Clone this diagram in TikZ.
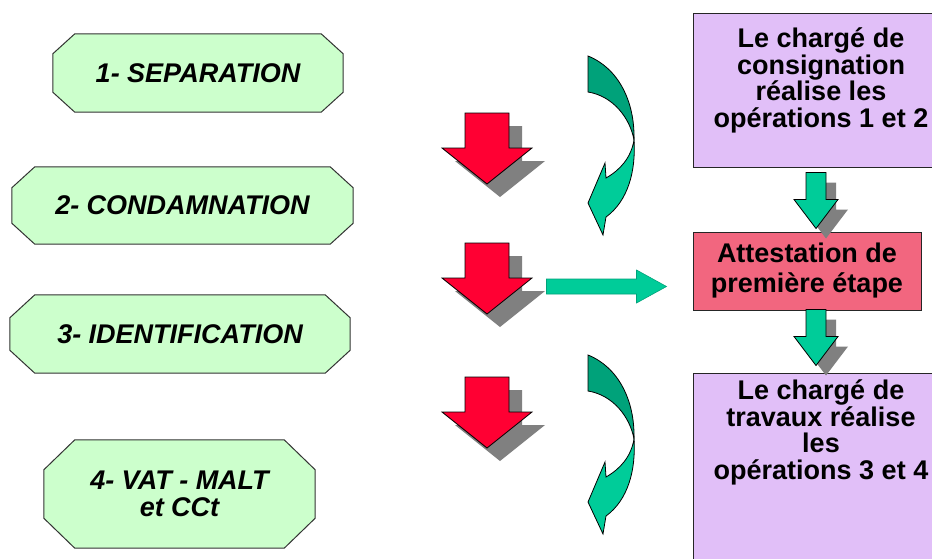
\documentclass[tikz,border=0pt]{standalone}
\usepackage{fontspec}
\setmainfont{Liberation Sans}
\usetikzlibrary{positioning,calc,backgrounds}
\definecolor{lotostepfill}{HTML}{CCFFCC}
\definecolor{lotoagentfill}{HTML}{E1BFF8}
\definecolor{lotoattestfill}{HTML}{F2667F}
\definecolor{lotored}{HTML}{FF0033}
\definecolor{lotogreen}{HTML}{00CC99}
\definecolor{lotogreendark}{HTML}{00A27A}
\colorlet{lotoshadow}{black!50}
\tikzset{
  lotostep/.style={
    align=center,
    inner sep=0pt,
    font=\fontsize{27}{27}\selectfont\bfseries\itshape
  },
  lotooctline/.style={draw=black!80,line width=1pt,fill=lotostepfill},
  lotoagent/.style={draw=black!85,line width=1pt,fill=lotoagentfill},
  lotoattest/.style={draw=black!85,line width=1pt,fill=lotoattestfill,
                     align=center,inner sep=0pt,
                     font=\fontsize{27}{30}\selectfont\bfseries},
  lototext/.style={align=center,inner sep=0pt,
                   font=\fontsize{27}{26.7}\selectfont\bfseries},
  lotoedge/.style={draw=black,line width=0.8pt},
  lotored/.pic={
    \fill[lotoshadow,shift={(13,13)}] (-22,0) -- (22,0) -- (22,35) -- (45,35)
      -- (0,71) -- (-45,35) -- (-22,35) -- cycle;
    \filldraw[lotoedge,fill=lotored] (-22,0) -- (22,0) -- (22,35) -- (45,35)
      -- (0,71) -- (-45,35) -- (-22,35) -- cycle;
  },
  lotodown/.pic={
    \fill[lotoshadow,shift={(10,10)}] (-10,0) -- (10,0) -- (10,27) -- (22,27)
      -- (0,56) -- (-22,27) -- (-10,27) -- cycle;
    \filldraw[lotoedge,fill=lotogreen] (-10,0) -- (10,0) -- (10,27) -- (22,27)
      -- (0,56) -- (-22,27) -- (-10,27) -- cycle;
  },
  lotoright/.pic={
    \filldraw[draw=lotogreendark,line width=0.6pt,fill=lotogreen]
      (0,-7.5) -- (90,-7.5) -- (90,-16.5) -- (120,0) -- (90,16.5)
      -- (90,7.5) -- (0,7.5) -- cycle;
  },
  lototwist/.pic={
    % back of the ribbon
    \filldraw[lotoedge,fill=lotogreendark] (0,0) .. controls (30,12) and (47,45) .. (46,84)
      .. controls (42,62) and (25,40) .. (0,36) -- cycle;
    % front of the ribbon with its head
    \filldraw[lotoedge,fill=lotogreen] (46,84) .. controls (48,115) and (40,145) .. (18,161)
      -- (15,179) -- (0,147) -- (17,107) -- (18,122)
      .. controls (32,114) and (43,102) .. (46,84) -- cycle;
  }
}
% octagon round a step node: #1 node, #2 x cut, #3 y cut
\newcommand{\lotooctagon}[3]{%
  \filldraw[lotooctline] ([xshift=#2]#1.north west) -- ([xshift=-#2]#1.north east)
    -- ([yshift=-#3]#1.north east) -- ([yshift=#3]#1.south east)
    -- ([xshift=-#2]#1.south east) -- ([xshift=#2]#1.south west)
    -- ([yshift=#3]#1.south west) -- ([yshift=-#3]#1.north west) -- cycle;}

\begin{document}
\begin{tikzpicture}[x=1pt,y=-1pt]
  \useasboundingbox (0,0) rectangle (932,558);

  % the four operations
  \node[lotostep,minimum width=290pt,minimum height=78pt] (sep) at (198,73)
    {1- SEPARATION};
  \node[lotostep,minimum width=341pt,minimum height=77pt] (cond) at (182.5,205.5)
    {2- CONDAMNATION};
  \node[lotostep,minimum width=340pt,minimum height=78pt] (ident) at (180,334)
    {3- IDENTIFICATION};
  \node[lotostep,minimum width=271pt,minimum height=108pt] (vat) at (179.5,494)
    {4- VAT - MALT\\et CCt};
  \begin{scope}[on background layer]
    \fill[white] (0,0) rectangle (932,558);
    \lotooctagon{sep}{22pt}{20pt}
    \lotooctagon{cond}{23pt}{21pt}
    \lotooctagon{ident}{25pt}{23pt}
    \lotooctagon{vat}{31pt}{30pt}
  \end{scope}

  % who does what
  \node[lotoagent,minimum width=256pt,minimum height=154pt] (consig) at (821,90) {};
  \node[lototext,below=15pt of consig.north] (consigtext)
    {Le chargé de\\consignation\\réalise les\\opérations 1 et 2};
  \node[lotoattest,minimum width=228pt,minimum height=78pt] (attest) at (807,271)
    {Attestation de\\première étape};
  \node[lotoagent,minimum width=256pt,minimum height=220pt] (trav) at (821,483) {};
  \node[lototext,below=7pt of trav.north] (travtext)
    {Le chargé de\\travaux réalise\\les\\opérations 3 et 4};

  % arrows
  \pic at (487,113) {lotored};
  \pic at (487,243) {lotored};
  \pic at (487,377) {lotored};
  \pic at (588,56) {lototwist};
  \pic at (588,355) {lototwist};
  \pic at ($(attest.west)+(-146,15.5)$) {lotoright};
  \pic at ($(consig.south)+(-5,5)$) {lotodown};
  \pic at ($(attest.south)+(9,-1)$) {lotodown};
\end{tikzpicture}
\end{document}
